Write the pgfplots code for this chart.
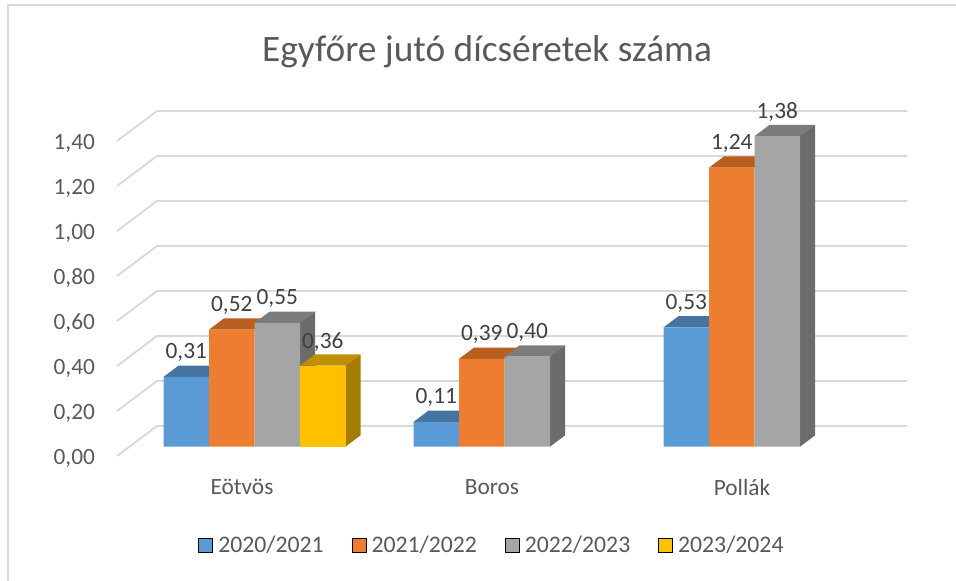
\documentclass[border=0pt]{standalone}
\usepackage{pgfplots}
\pgfplotsset{compat=1.18}
\usepackage{fontspec}
\setmainfont{Carlito}
\definecolor{txt}{HTML}{595959}
\definecolor{lbl}{HTML}{404040}
\definecolor{gridc}{HTML}{D9D9D9}
\definecolor{blF}{HTML}{5B9BD5}
\definecolor{blT}{HTML}{44749F}
\definecolor{orF}{HTML}{ED7D31}
\definecolor{orT}{HTML}{B85E1F}
\definecolor{grF}{HTML}{A5A5A5}
\definecolor{grT}{HTML}{7C7C7C}
\definecolor{grS}{HTML}{6B6B6B}
\definecolor{yeF}{HTML}{FFC000}
\definecolor{yeT}{HTML}{BF9000}
\definecolor{yeS}{HTML}{A67C00}
\pgfplotsset{
  wall/.style={draw=gridc,line width=1.4pt,forget plot,mark=none},
  face/.style={draw=none,fill=#1,forget plot,mark=none,xshift=9.375pt,yshift=7pt},
  front/.style={ybar,bar width=34.125pt,bar shift=#1,draw=none,forget plot,xshift=9.375pt,yshift=7pt,
    nodes near coords,
    nodes near coords align={center},
    every node near coord/.append style={font=\fontsize{17.5}{20}\selectfont,text=lbl,yshift=18pt,xshift=#1,
      /pgf/number format/fixed,/pgf/number format/fixed zerofill,/pgf/number format/precision=2,
      /pgf/number format/use comma,/pgf/number format/assume math mode=true}},
}
\begin{document}
\begin{tikzpicture}[x=1pt,y=1pt]
\useasboundingbox (-87.75pt,-93.75pt) rectangle (629.25pt,342pt);
\begin{axis}[
  scale only axis, width=562.5pt, height=236.25pt,
  at={(0pt,0pt)}, anchor=south west,
  xmin=-0.5, xmax=2.5, ymin=0, ymax=1.4,
  clip=false,
  axis line style={draw=none},
  tick style={draw=none},
  xtick={0,1,2}, xticklabels={Eötvös,Boros,Pollák},
  ytick={0,0.2,0.4,0.6,0.8,1,1.2,1.4},
  /pgf/number format/assume math mode=true,
  yticklabel style={/pgf/number format/fixed,/pgf/number format/fixed zerofill,/pgf/number format/precision=2,/pgf/number format/use comma,
     font=\fontsize{17.5}{20}\selectfont,text=txt,anchor=east,xshift=-13pt,yshift=-1.7pt},
  xticklabel style={font=\fontsize{17.5}{20}\selectfont,text=txt,anchor=center,yshift=-23.5pt},
  title={Egyfőre jutó dícséretek száma},
  title style={font=\fontsize{28}{32}\selectfont,text=txt,at={(0.5,1)},anchor=center,yshift=61pt,xshift=-3.75pt},
  legend columns=4,
  legend style={draw=none,fill=none,at={(0.5,0)},anchor=center,yshift=-67pt,xshift=0.25pt,
     font=\fontsize{17.8}{20}\selectfont,text=txt,
     /tikz/every even column/.style={column sep=19pt},
     /tikz/every odd column/.style={column sep=2pt}},
  legend image code/.code={\fill[#1] (0pt,-5.25pt) rectangle (10.5pt,5.25pt);},
]
% walls: left wall and back wall grid lines (front-left, back-left, back-right)
\addplot[wall] coordinates {(-0.5,0)(-0.34,0.1333)(2.66,0.1333)};
\addplot[wall] coordinates {(-0.5,0.2)(-0.34,0.3333)(2.66,0.3333)};
\addplot[wall] coordinates {(-0.5,0.4)(-0.34,0.5333)(2.66,0.5333)};
\addplot[wall] coordinates {(-0.5,0.6)(-0.34,0.7333)(2.66,0.7333)};
\addplot[wall] coordinates {(-0.5,0.8)(-0.34,0.9333)(2.66,0.9333)};
\addplot[wall] coordinates {(-0.5,1.0)(-0.34,1.1333)(2.66,1.1333)};
\addplot[wall] coordinates {(-0.5,1.2)(-0.34,1.3333)(2.66,1.3333)};
\addplot[wall] coordinates {(-0.5,1.4)(-0.34,1.5333)(2.66,1.5333)};

% 2020/2021
\addplot[face=blT] coordinates {(-0.364,0.31)(-0.304,0.3602)(-0.122,0.3602)(-0.182,0.31)} --cycle;
\addplot[face=blT] coordinates {(0.636,0.11)(0.696,0.1602)(0.878,0.1602)(0.818,0.11)} --cycle;
\addplot[face=blT] coordinates {(1.636,0.53)(1.696,0.5802)(1.878,0.5802)(1.818,0.53)} --cycle;
\addplot[front=-51.1875pt,fill=blF] coordinates {(0,0.31)(1,0.11)(2,0.53)};

% 2021/2022
\addplot[face=orT] coordinates {(-0.182,0.52)(-0.122,0.5702)(0.06,0.5702)(0,0.52)} --cycle;
\addplot[face=orT] coordinates {(0.818,0.39)(0.878,0.4402)(1.06,0.4402)(1,0.39)} --cycle;
\addplot[face=orT] coordinates {(1.818,1.24)(1.878,1.2902)(2.06,1.2902)(2,1.24)} --cycle;
\addplot[front=-17.0625pt,fill=orF] coordinates {(0,0.52)(1,0.39)(2,1.24)};

% 2022/2023
\addplot[face=grT] coordinates {(0,0.55)(0.06,0.6002)(0.242,0.6002)(0.182,0.55)} --cycle;
\addplot[face=grS] coordinates {(0.182,0)(0.242,0.0502)(0.242,0.6002)(0.182,0.55)} --cycle;
\addplot[face=grT] coordinates {(1,0.40)(1.06,0.4502)(1.242,0.4502)(1.182,0.40)} --cycle;
\addplot[face=grS] coordinates {(1.182,0)(1.242,0.0502)(1.242,0.4502)(1.182,0.40)} --cycle;
\addplot[face=grT] coordinates {(2,1.38)(2.06,1.4302)(2.242,1.4302)(2.182,1.38)} --cycle;
\addplot[face=grS] coordinates {(2.182,0)(2.242,0.0502)(2.242,1.4302)(2.182,1.38)} --cycle;
\addplot[front=17.0625pt,fill=grF] coordinates {(0,0.55)(1,0.40)(2,1.38)};

% 2023/2024
\addplot[face=yeT] coordinates {(0.182,0.36)(0.242,0.4102)(0.424,0.4102)(0.364,0.36)} --cycle;
\addplot[face=yeS] coordinates {(0.364,0)(0.424,0.0502)(0.424,0.4102)(0.364,0.36)} --cycle;
\addplot[front=51.1875pt,fill=yeF] coordinates {(0,0.36)};

\addlegendimage{fill=blF}\addlegendentry{2020/2021}
\addlegendimage{fill=orF}\addlegendentry{2021/2022}
\addlegendimage{fill=grF}\addlegendentry{2022/2023}
\addlegendimage{fill=yeF}\addlegendentry{2023/2024}
\end{axis}
\draw[gridc,line width=1.3pt] (-81.75pt,-93.75pt) -- (-81.75pt,338.25pt) -- (629.25pt,338.25pt);
\end{tikzpicture}
\end{document}
